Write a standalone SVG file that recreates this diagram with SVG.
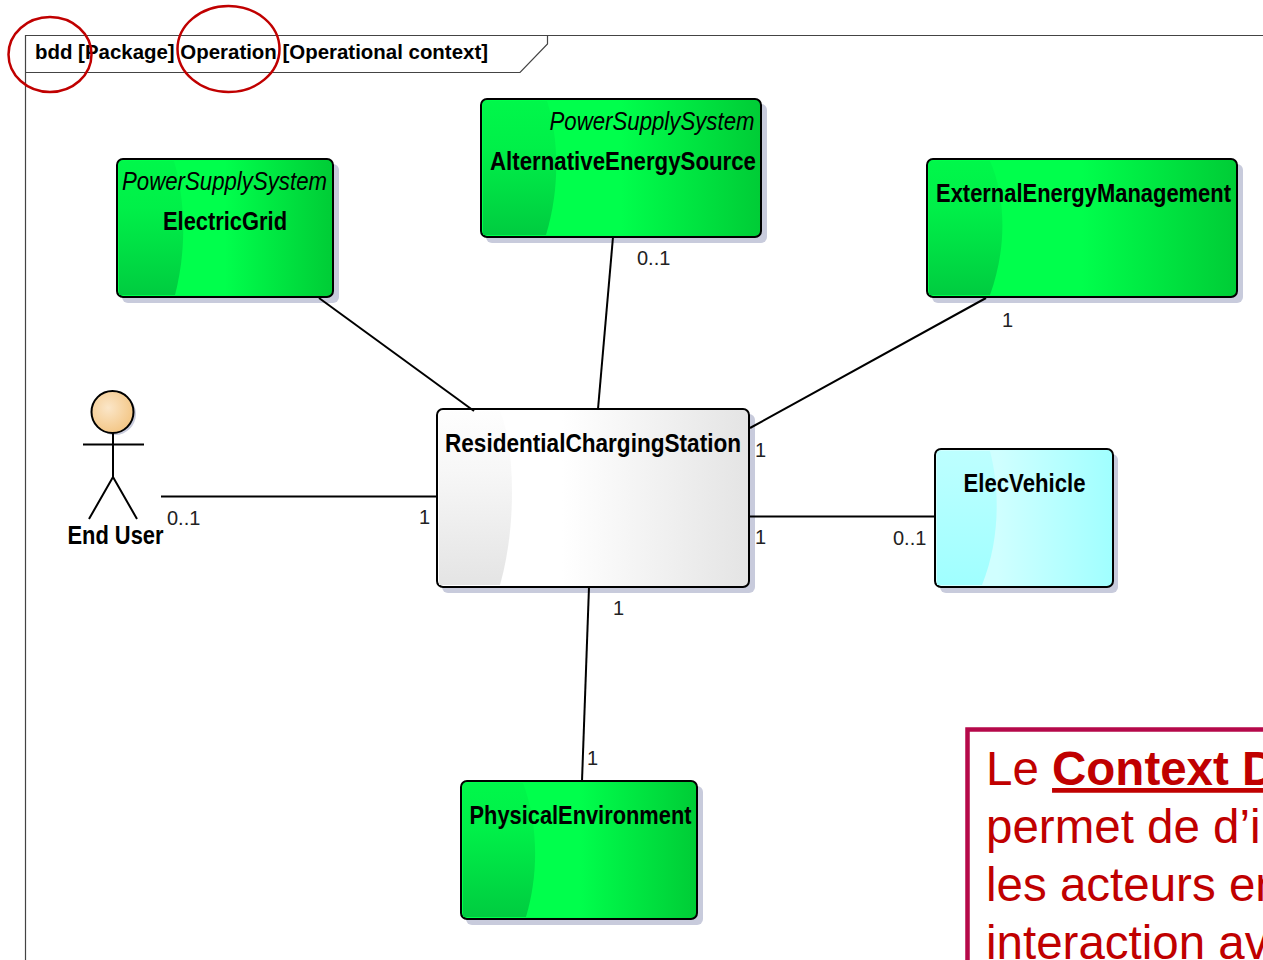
<svg xmlns="http://www.w3.org/2000/svg" width="1263" height="960" viewBox="0 0 1263 960">
<style>
text{font-family:"Liberation Sans",Arial,sans-serif;fill:#000}
.frame{fill:none;stroke:#444;stroke-width:1.200}
.title{font-size:20px;font-weight:bold}
.ring{fill:none;stroke:#c00000;stroke-width:2.500}
.box{stroke:#000;stroke-width:2}
.shadow{fill:#c8cbdc}
.name{font-size:25px;font-weight:bold;text-anchor:middle}
.stereo{font-size:25px;font-style:italic;text-anchor:middle}
.mult{font-size:20px;fill:#222}
.conn line{stroke:#000;stroke-width:2}
.green{fill:url(#gGreen)}
.white{fill:url(#gWhite)}
.cyan{fill:url(#gCyan)}
.over{fill:url(#gOver)}
.overw{fill:url(#gOverW)}
.overc{fill:url(#gOverC)}
.note{font-size:47.500px;fill:#c00000}
</style>
<defs>
<linearGradient id="gGreen" x1="0" x2="1" y1="0" y2="0"><stop offset="0" stop-color="#00ff4c"/><stop offset=".5" stop-color="#00ff4c"/><stop offset="1" stop-color="#00cc36"/></linearGradient>
<linearGradient id="gWhite" x1="0" x2="1" y1="0" y2="0"><stop offset="0" stop-color="#fff"/><stop offset=".4" stop-color="#fff"/><stop offset="1" stop-color="#e4e4e4"/></linearGradient>
<linearGradient id="gCyan" x1="0" x2="1" y1="0" y2="0"><stop offset="0" stop-color="#d0ffff"/><stop offset=".35" stop-color="#d0ffff"/><stop offset="1" stop-color="#a0ffff"/></linearGradient>
<linearGradient id="gOver" x1="0" x2="0" y1="0" y2="1"><stop offset="0" stop-color="#00cc40" stop-opacity=".15"/><stop offset=".35" stop-color="#00cc40" stop-opacity=".3"/><stop offset="1" stop-color="#00cc40" stop-opacity="1"/></linearGradient>
<linearGradient id="gOverW" x1="0" x2="0" y1="0" y2="1"><stop offset="0" stop-color="#e4e4e4" stop-opacity=".05"/><stop offset=".35" stop-color="#e4e4e4" stop-opacity=".3"/><stop offset="1" stop-color="#e4e4e4" stop-opacity="1"/></linearGradient>
<linearGradient id="gOverC" x1="0" x2="0" y1="0" y2="1"><stop offset="0" stop-color="#a0ffff" stop-opacity=".4"/><stop offset="1" stop-color="#a0ffff" stop-opacity="1"/></linearGradient>
<radialGradient id="gHead" cx=".4" cy=".4" r=".65"><stop offset="0" stop-color="#fbe6c8"/><stop offset="1" stop-color="#f3c583"/></radialGradient>
</defs>
<rect width="1263" height="960" fill="#fff"/>

<g id="frame">
<path class="frame" d="M25.500 960V35.500H1263M25.500 72.500H520L547.500 44V35.500"/>
<text class="title" x="35" y="59" textLength="453" lengthAdjust="spacingAndGlyphs">bdd [Package] Operation [Operational context]</text>
</g>

<g id="ElectricGrid">
<rect class="shadow" x="122" y="164" width="217" height="139" rx="6"/>
<rect class="box green" x="117" y="159" width="216" height="138" rx="6"/>
<path class="over" d="M119 161H174C184 195 188 245 175 295H119Z"/>
<text class="stereo" x="224.500" y="190" textLength="205" lengthAdjust="spacingAndGlyphs">PowerSupplySystem</text>
<text class="name" x="225" y="230" textLength="124" lengthAdjust="spacingAndGlyphs">ElectricGrid</text>
</g>

<g id="AlternativeEnergySource">
<rect class="shadow" x="486" y="104" width="281" height="139" rx="6"/>
<rect class="box green" x="481" y="99" width="280" height="138" rx="6"/>
<path class="over" d="M483 101H547C558 135 561 185 546 235H483Z"/>
<text class="stereo" x="652" y="130" textLength="205" lengthAdjust="spacingAndGlyphs">PowerSupplySystem</text>
<text class="name" x="623" y="170" textLength="266" lengthAdjust="spacingAndGlyphs">AlternativeEnergySource</text>
</g>

<g id="ExternalEnergyManagement">
<rect class="shadow" x="932" y="164" width="311" height="139" rx="6"/>
<rect class="box green" x="927" y="159" width="310" height="138" rx="6"/>
<path class="over" d="M929 161H990C1005 195 1008 245 990 295H929Z"/>
<text class="name" x="1083.500" y="202" textLength="295" lengthAdjust="spacingAndGlyphs">ExternalEnergyManagement</text>
</g>

<g id="EndUser">
<circle cx="115" cy="414" r="21" class="shadow"/>
<circle cx="112.500" cy="412" r="21" fill="url(#gHead)" stroke="#000" stroke-width="2"/>
<path d="M113 433V477M83 444.500H144M89 519L113 477L137 519" fill="none" stroke="#000" stroke-width="2"/>
<text class="name" x="115.500" y="544" textLength="96" lengthAdjust="spacingAndGlyphs">End User</text>
</g>

<g id="ResidentialChargingStation">
<rect class="shadow" x="442" y="414" width="313" height="179" rx="6"/>
<rect class="box white" x="437" y="409" width="312" height="178" rx="6"/>
<path class="overw" d="M439 411H500C516 450 516 530 500 585H439Z"/>
<text class="name" x="593" y="452" textLength="296" lengthAdjust="spacingAndGlyphs">ResidentialChargingStation</text>
</g>

<g id="ElecVehicle">
<rect class="shadow" x="940" y="454" width="178" height="139" rx="6"/>
<rect class="box cyan" x="935" y="449" width="178" height="138" rx="6"/>
<path class="overc" d="M937 451H990C1000 490 1000 540 982 585H937Z"/>
<text class="name" x="1024.500" y="492" textLength="122" lengthAdjust="spacingAndGlyphs">ElecVehicle</text>
</g>

<g id="PhysicalEnvironment">
<rect class="shadow" x="466" y="786" width="237" height="139" rx="6"/>
<rect class="box green" x="461" y="781" width="236" height="138" rx="6"/>
<path class="over" d="M463 783H523C537 820 540 870 526 917H463Z"/>
<text class="name" x="580.500" y="824" textLength="222" lengthAdjust="spacingAndGlyphs">PhysicalEnvironment</text>
</g>

<g id="connectors" class="conn">
<line x1="319" y1="298" x2="474" y2="411"/>
<line x1="613" y1="237" x2="598" y2="409"/>
<line x1="986" y1="298" x2="750" y2="428"/>
<line x1="161" y1="496.500" x2="437" y2="496.500"/>
<line x1="750" y1="516.500" x2="935" y2="516.500"/>
<line x1="589" y1="587" x2="582" y2="781"/>
</g>

<g id="multiplicities">
<text class="mult" x="637" y="265">0..1</text>
<text class="mult" x="1002" y="327">1</text>
<text class="mult" x="755" y="457">1</text>
<text class="mult" x="167" y="525">0..1</text>
<text class="mult" x="419" y="524">1</text>
<text class="mult" x="755" y="544">1</text>
<text class="mult" x="893" y="545">0..1</text>
<text class="mult" x="613" y="615">1</text>
<text class="mult" x="587" y="765">1</text>
</g>

<g id="annotations">
<ellipse class="ring" cx="50" cy="54.500" rx="41.500" ry="37.500"/>
<ellipse class="ring" cx="228.500" cy="49" rx="51" ry="43"/>
</g>

<g id="note">
<path d="M1263 729.500H967.500V960" fill="none" stroke="#b5094a" stroke-width="4.500"/>
<text class="note" x="986" y="785">Le <tspan font-weight="bold" text-decoration="underline">Context D</tspan></text>
<text class="note" x="986" y="843">permet de d’i</text>
<text class="note" x="986" y="901">les acteurs en</text>
<text class="note" x="986" y="959">interaction av</text>
</g>
</svg>
